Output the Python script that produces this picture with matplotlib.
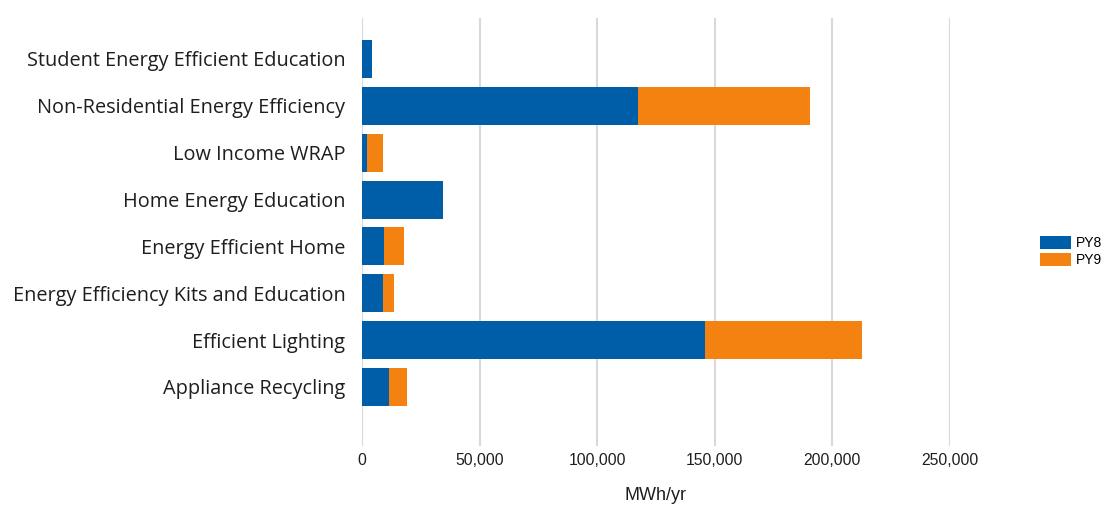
import matplotlib
matplotlib.use("Agg")
import matplotlib.pyplot as plt
from matplotlib.ticker import FuncFormatter

programs = ["Student Energy Efficient Education",
            "Non-Residential Energy Efficiency",
            "Low Income WRAP",
            "Home Energy Education",
            "Energy Efficient Home",
            "Energy Efficiency Kits and Education",
            "Efficient Lighting",
            "Appliance Recycling"]
py8 = [4100, 117300, 2300, 34400, 9500, 8800, 145800, 11500]
py9 = [0, 73200, 6800, 0, 8200, 4900, 66900, 7700]
x_ticks = [0, 50000, 100000, 150000, 200000, 250000]

blue = "#005ea8"
orange = "#f38211"

fig = plt.figure(figsize=(11.09, 5.08), dpi=100)
ax = fig.add_axes([362 / 1109, 1 - 446 / 508, (950 - 362) / 1109, (446 - 18) / 508])

pos = list(range(len(programs)))
ax.barh(pos, py8, height=0.81, color=blue, label="PY8", zorder=3)
ax.barh(pos, py9, left=py8, height=0.81, color=orange, label="PY9", zorder=3)

ax.set_ylim(len(programs) - 1 + 1.26, -0.874)
ax.set_xlim(0, 250000)
ax.set_xticks(x_ticks)
ax.xaxis.set_major_formatter(FuncFormatter(lambda v, p: f"{int(v):,}"))
ax.set_yticks(pos)
ax.set_yticklabels(programs, fontsize=14.3, family=["Open Sans", "DejaVu Sans"], color="#1e1e1e")
for lab in ax.get_xticklabels():
    lab.set_fontsize(11.3)
    lab.set_family(["Liberation Sans", "DejaVu Sans"])
    lab.set_color("#1e1e1e")
ax.tick_params(length=0)
ax.tick_params(axis="x", pad=5)
ax.tick_params(axis="y", pad=12)
ax.grid(axis="x", color="#d9d9d9", linewidth=1.5, zorder=0)
for s in ax.spines.values():
    s.set_visible(False)

ax.set_xlabel("MWh/yr", fontsize=13, family=["Liberation Sans", "DejaVu Sans"],
              color="#1e1e1e", labelpad=14)

fig.legend(loc="upper left", bbox_to_anchor=(1040 / 1109, 1 - 236 / 508), frameon=False,
           prop={"family": ["Liberation Sans", "DejaVu Sans"], "size": 10},
           handlelength=2.2, handleheight=1.05, handletextpad=0.4, labelspacing=0.2,
           borderpad=0, borderaxespad=0)

fig.savefig("out.png", dpi=100)
